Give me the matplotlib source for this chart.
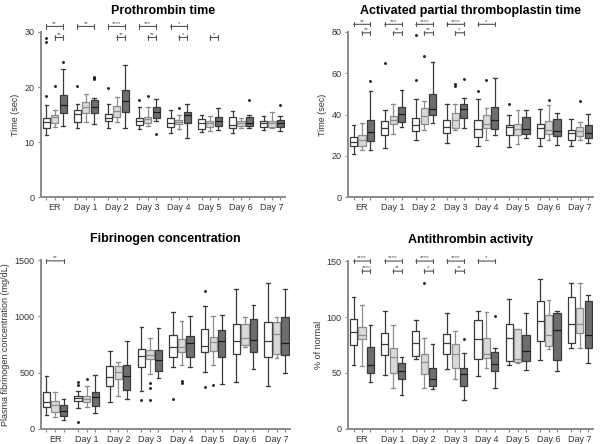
import numpy as np
import matplotlib
matplotlib.use('Agg')
import matplotlib.pyplot as plt

plt.rcParams['font.family'] = ['Liberation Sans', 'DejaVu Sans']

days = ['ER', 'Day 1', 'Day 2', 'Day 3', 'Day 4', 'Day 5', 'Day 6', 'Day 7']

# each row is one day: [white, light gray, dark gray]
# prothrombin time (sec)
pt_q1 = [[12.6, 13.4, 15.2], [13.6, 15.3, 15.2], [13.8, 14.6, 15.5], [13.1, 13.5, 14.4],
         [12.8, 13.3, 13.5], [12.3, 12.8, 13.0], [12.6, 12.9, 13.0], [12.7, 12.8, 12.8]]
pt_med = [[13.6, 14.5, 16.7], [15.1, 16.4, 16.3], [14.3, 15.6, 17.5], [13.8, 14.2, 15.4],
          [13.4, 13.7, 15.0], [13.4, 13.4, 13.9], [13.1, 13.4, 13.4], [13.4, 13.4, 13.5]]
pt_q3 = [[14.4, 14.9, 18.6], [15.9, 17.2, 17.7], [15.1, 16.6, 19.5], [14.3, 14.6, 16.3],
         [14.3, 14.1, 15.5], [14.2, 13.9, 14.6], [14.5, 13.8, 14.5], [13.9, 13.8, 14.0]]
pt_lo = [[11.3, 12.8, 12.9], [12.6, 13.6, 13.3], [12.6, 13.6, 12.5], [12.4, 12.9, 13.9],
         [11.6, 12.3, 10.8], [11.9, 12.0, 12.2], [11.7, 12.5, 12.6], [12.2, 12.5, 12.0]]
pt_hi = [[16.7, 15.9, 23.3], [17.0, 18.7, 18.0], [17.0, 18.1, 24.0], [16.3, 16.3, 17.9],
         [15.9, 15.0, 16.9], [14.9, 14.8, 16.2], [15.6, 14.3, 15.0], [14.8, 15.4, 14.8]]
pt_out = [[[18.4, 28.1, 28.9], [20.2], [24.5]], [[20.1], [], [21.5, 21.6, 21.8]],
          [[19.9], [], []], [[17.7], [18.3], [11.4]], [[], [16.1], []],
          [[], [], []], [[], [], [17.7]], [[], [], [16.7]]]
pt_sig = [(0, 'wd', '**'), (0, 'ld', '**'), (1, 'wd', '**'), (2, 'wd', '****'), (2, 'ld', '**'),
          (3, 'wd', '***'), (3, 'ld', '**'), (4, 'wd', '*'), (4, 'ld', '*'), (5, 'ld', '*')]
pt_sig_y = {'wd': 31.0, 'ld': 29.0}

# activated partial thromboplastin time (sec)
ap_q1 = [[24.7, 25.0, 27.0], [30.2, 35.2, 36.5], [31.8, 35.5, 39.9], [31.2, 33.4, 38.4],
         [29.1, 33.6, 33.1], [29.9, 30.2, 30.4], [28.8, 30.7, 29.6], [27.8, 29.6, 28.8]]
ap_med = [[26.7, 27.8, 31.5], [33.4, 37.5, 40.4], [34.7, 39.1, 42.8], [33.9, 37.5, 42.8],
          [33.1, 35.5, 37.2], [33.9, 33.1, 33.1], [33.4, 32.3, 32.0], [31.0, 31.8, 31.0]]
ap_q3 = [[29.1, 29.9, 37.6], [36.7, 39.1, 43.6], [38.3, 43.3, 50.1], [37.5, 40.9, 45.2],
         [37.5, 39.6, 43.6], [35.1, 35.2, 38.8], [35.5, 36.7, 38.0], [32.6, 34.2, 35.1]]
ap_lo = [[21.0, 22.6, 22.6], [23.7, 30.7, 34.2], [27.8, 32.6, 36.0], [26.2, 32.6, 33.4],
         [24.7, 27.8, 30.2], [24.2, 25.8, 28.8], [24.7, 27.5, 25.4], [24.7, 27.5, 26.3]]
ap_hi = [[34.7, 35.9, 51.4], [42.0, 44.9, 52.0], [47.7, 46.4, 65.4], [45.2, 45.2, 48.1],
         [47.3, 43.3, 57.7], [39.9, 42.3, 42.0], [42.8, 44.7, 40.9], [38.0, 36.3, 40.1]]
ap_out = [[[], [], [56.1]], [[65.0], [], []], [[56.5, 78.3], [68.2], []],
          [[], [54.0, 54.6], [57.0]], [[51.2], [56.5], []], [[44.9], [], []],
          [[], [47.2], []], [[], [46.4], []]]
ap_sig = [(0, 'wd', '**'), (0, 'ld', '**'), (1, 'wd', '***'), (1, 'ld', '**'),
          (2, 'wd', '****'), (2, 'ld', '**'), (3, 'wd', '****'), (3, 'ld', '*'), (4, 'wd', '*')]
ap_sig_y = {'wd': 83.7, 'ld': 79.6}

# plasma fibrinogen (mg/dL)
fb_q1 = [[198, 154, 118], [252, 237, 207], [385, 444, 346], [553, 621, 518],
         [642, 681, 642], [686, 695, 642], [666, 749, 686], [642, 666, 657]]
fb_med = [[237, 213, 157], [275, 266, 281], [465, 509, 473], [651, 657, 615],
          [725, 725, 763], [734, 775, 778], [784, 805, 793], [784, 843, 763]]
fb_q3 = [[325, 252, 216], [296, 290, 325], [562, 562, 571], [710, 701, 701],
         [834, 799, 829], [888, 814, 882], [932, 932, 976], [953, 953, 997]]
fb_lo = [[124, 109, 80], [183, 192, 142], [243, 290, 266], [340, 488, 453],
         [553, 571, 553], [510, 568, 400], [420, 731, 533], [379, 627, 497]]
fb_hi = [[468, 331, 266], [340, 385, 482], [689, 598, 784], [908, 808, 897],
         [1036, 956, 1006], [1095, 1000, 1012], [1243, 997, 1104], [1293, 997, 1243]]
fb_out = [[[], [], []], [[420, 391, 59], [444], []], [[], [], []],
          [[260], [408, 364, 257], []], [[266], [429, 408], []],
          [[1228, 376], [391], []], [[], [], []], [[], [], []]]
fb_sig = [(0, 'wd', '**')]
fb_sig_y = {'wd': 1494}

# antithrombin (% of normal)
at_q1 = [[74.7, 80.7, 50.2], [66.3, 50.2, 44.8], [65.1, 49.3, 38.2], [66.6, 54.4, 38.2],
         [62.1, 63.3, 51.4], [60.4, 59.8, 60.4], [78.6, 74.1, 61.2], [77.1, 85.7, 72.6]]
at_med = [[86.6, 83.7, 56.8], [76.2, 64.2, 51.7], [77.1, 59.8, 44.8], [77.1, 67.2, 49.3],
          [80.1, 67.2, 58.3], [81.3, 62.7, 69.3], [96.2, 83.7, 88.1], [94.1, 94.1, 83.7]]
at_q3 = [[98.6, 91.1, 73.2], [86.0, 72.3, 58.9], [87.2, 66.6, 54.7], [84.6, 76.2, 54.7],
         [97.1, 81.6, 68.7], [94.1, 89.0, 83.7], [114.4, 101.6, 103.7], [118.0, 108.2, 114.4]]
at_lo = [[57.4, 56.2, 41.8], [48.4, 36.5, 30.5], [62.7, 36.5, 35.3], [53.2, 44.2, 25.4],
         [47.2, 54.7, 36.5], [57.4, 59.2, 52.3], [61.8, 71.1, 51.4], [72.3, 72.3, 59.2]]
at_hi = [[118.0, 110.5, 93.2], [105.0, 93.2, 64.2], [97.1, 81.6, 76.2], [103.7, 87.2, 68.1],
         [105.2, 104.6, 72.3], [116.5, 89.0, 103.7], [134.4, 115.0, 105.2], [130.6, 130.6, 119.5]]
at_out = [[[], [], []], [[], [], []], [[], [130], []], [[], [], [80.1]],
          [[], [], [100.7]], [[], [], []], [[], [], []], [[], [], []]]
at_sig = [(0, 'wd', '****'), (0, 'ld', '****'), (1, 'wd', '****'), (1, 'ld', '**'),
          (2, 'wd', '****'), (2, 'ld', '*'), (3, 'wd', '****'), (3, 'ld', '**'), (4, 'wd', '*')]
at_sig_y = {'wd': 150, 'ld': 141}

# styling for the three groups
offsets = [-0.27, 0.0, 0.27]
faces = ['white', '#d9d9d9', '#6e6e6e']
edges = ['#3a3a3a', '#8c8c8c', '#3a3a3a']
medcols = ['#3a3a3a', '#8c8c8c', '#1a1a1a']
spine_col = '#8a8a8a'


def draw_panel(ax, q1, med, q3, lo, hi, out, sig, sig_y, title, ylabel, yticks):
    for g in range(len(days)):
        for k in range(3):
            st = dict(med=med[g][k], q1=q1[g][k], q3=q3[g][k],
                      whislo=lo[g][k], whishi=hi[g][k], fliers=out[g][k])
            ax.bxp([st], positions=[g + offsets[k]], widths=0.23, patch_artist=True,
                   boxprops=dict(facecolor=faces[k], edgecolor=edges[k], linewidth=0.9),
                   medianprops=dict(color=medcols[k], linewidth=0.9),
                   whiskerprops=dict(color=edges[k], linewidth=0.9),
                   capprops=dict(color=edges[k], linewidth=0.9),
                   flierprops=dict(marker='o', markersize=1.1, markerfacecolor='#222222',
                                   markeredgecolor='#222222'),
                   capwidths=0.12, manage_ticks=False)
    # significance brackets
    for g, pair, lab in sig:
        x1 = g + (offsets[0] if pair == 'wd' else offsets[1])
        x2 = g + offsets[2]
        y = sig_y[pair]
        ax.annotate('', xy=(x1, y), xytext=(x2, y), annotation_clip=False,
                    arrowprops=dict(arrowstyle='|-|,widthA=0.15,widthB=0.15',
                                    color='#555555', lw=0.8, shrinkA=0, shrinkB=0))
        ax.annotate(lab, xy=((x1 + x2) / 2, y), xytext=(0, 0.5), textcoords='offset points',
                    ha='center', va='bottom', fontsize=4.5, color='#555555',
                    annotation_clip=False)
    ax.set_xlim(-0.45, 7.42)
    ax.set_ylim(yticks[0], yticks[-1])
    ax.set_yticks(yticks)
    pos = [g + o for g in range(len(days)) for o in offsets]
    labs = [days[g] if k == 1 else '' for g in range(len(days)) for k in range(3)]
    ax.set_xticks(pos)
    ax.set_xticklabels(labs)
    ax.tick_params(axis='both', labelsize=6.5, colors='#333333', length=2.5, width=0.8,
                   pad=2)
    ax.tick_params(axis='both', color=spine_col)
    for s in ['top', 'right']:
        ax.spines[s].set_visible(False)
    for s in ['left', 'bottom']:
        ax.spines[s].set_color(spine_col)
        ax.spines[s].set_linewidth(1.4)
    ax.set_ylabel(ylabel, fontsize=6.5, color='#333333', labelpad=3)
    ax.set_title(title, fontsize=9, fontweight='bold', pad=13)


fig = plt.figure(figsize=(6, 4.44), dpi=100)
ax1 = fig.add_axes([0.068, 0.556, 0.407, 0.372])
ax2 = fig.add_axes([0.58, 0.556, 0.408, 0.372])
ax3 = fig.add_axes([0.068, 0.034, 0.415, 0.38])
ax4 = fig.add_axes([0.58, 0.034, 0.408, 0.378])

draw_panel(ax1, pt_q1, pt_med, pt_q3, pt_lo, pt_hi, pt_out, pt_sig, pt_sig_y,
           'Prothrombin time', 'Time (sec)', [0, 10, 20, 30])
draw_panel(ax2, ap_q1, ap_med, ap_q3, ap_lo, ap_hi, ap_out, ap_sig, ap_sig_y,
           'Activated partial thromboplastin time', 'Time (sec)', [0, 20, 40, 60, 80])
draw_panel(ax3, fb_q1, fb_med, fb_q3, fb_lo, fb_hi, fb_out, fb_sig, fb_sig_y,
           'Fibrinogen concentration', 'Plasma fibrinogen concentration (mg/dL)',
           [0, 500, 1000, 1500])
draw_panel(ax4, at_q1, at_med, at_q3, at_lo, at_hi, at_out, at_sig, at_sig_y,
           'Antithrombin activity', '% of normal', [0, 50, 100, 150])

fig.savefig('out.png', dpi=100)
